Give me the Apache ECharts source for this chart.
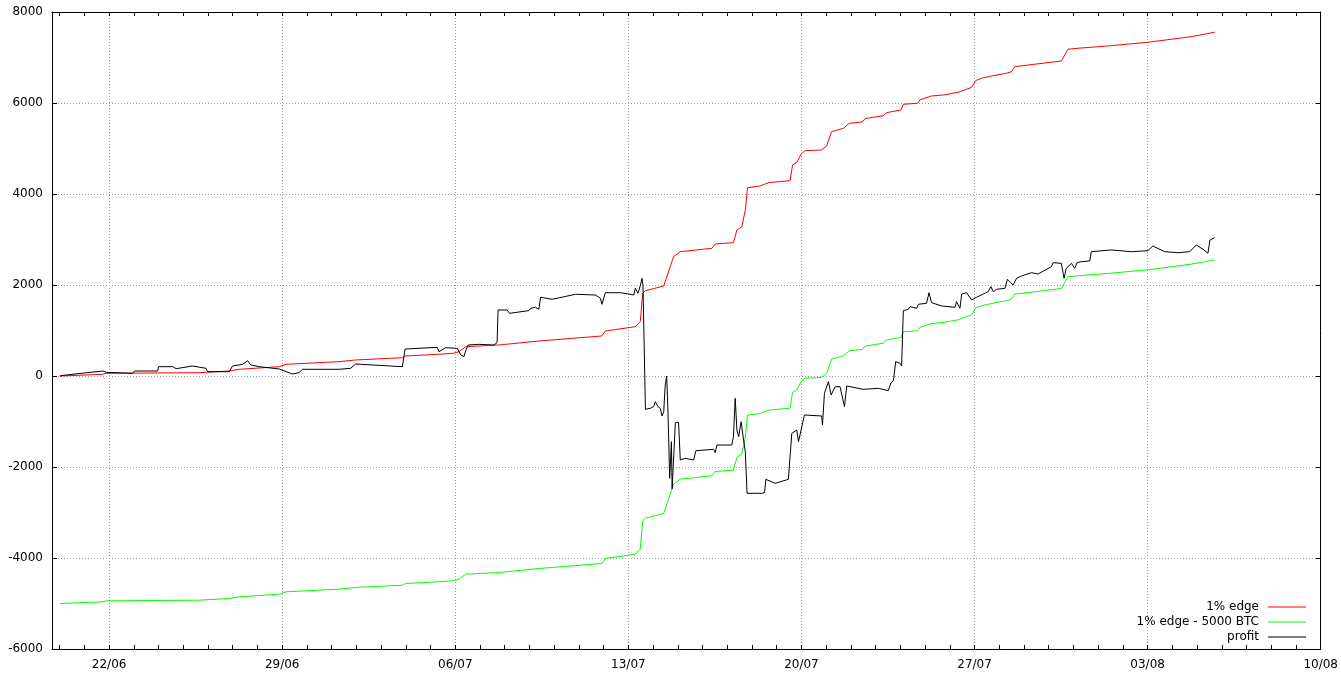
<!DOCTYPE html>
<html><head><meta charset="utf-8">
<script src="https://cdn.jsdelivr.net/npm/echarts@6/dist/echarts.min.js"></script>
<style>html,body{margin:0;padding:0;background:#fff}#c{width:1341px;height:675px}</style>
</head><body><div id="c"></div>
<script>
// x values are days since 20/06/2013 00:00 UTC
const BASE = Date.UTC(2013, 5, 20);
const xMin = -0.31, xMax = 51;
const dayTicks = [0,1,2,3,4,5,6,7,8,9,10,11,12,13,14,15,16,17,18,19,20,21,22,23,24,25,26,27,28,29,30,31,32,33,34,35,36,37,38,39,40,41,42,43,44,45,46,47,48,49,50,51];
const weekTicks = [2,9,16,23,30,37,44,51];
const yMin = -6000, yMax = 8000, yStep = 2000;

const edgeDays = [0.01,1.74,1.88,5.65,6.86,7.26,8.88,9.15,11.30,11.97,13.86,13.99,15.34,15.94,16.15,16.42,17.36,17.76,19.38,21.92,22.07,23.28,23.48,23.58,23.69,24.43,24.83,25.10,26.38,26.51,27.25,27.39,27.59,27.73,27.82,28.33,28.67,29.54,29.64,29.81,29.99,30.15,30.80,31.02,31.22,31.70,31.93,32.46,32.57,33.31,33.44,34.03,34.12,34.70,34.79,35.26,35.74,36.34,36.68,36.88,37.04,37.28,37.69,38.29,38.49,38.63,40.51,40.78,41.19,42.53,44.01,45.76,46.30,46.71];
const edgeVals = [0,37,59,73,110,147,205,257,315,352,402,440,477,501,534,644,670,681,769,879,989,1084,1194,1818,1875,1978,2622,2732,2806,2901,2930,3209,3282,3649,4139,4176,4249,4293,4638,4689,4880,4952,4967,5055,5370,5444,5554,5583,5656,5722,5788,5847,5972,5994,6067,6154,6176,6236,6302,6346,6491,6543,6594,6653,6689,6799,6924,7181,7203,7260,7334,7458,7511,7555];
const edgeMinusVals = [-5000,-4963,-4941,-4927,-4890,-4853,-4795,-4743,-4685,-4648,-4598,-4560,-4523,-4499,-4466,-4356,-4330,-4319,-4231,-4121,-4011,-3916,-3806,-3182,-3125,-3022,-2378,-2268,-2194,-2099,-2070,-1791,-1718,-1351,-861,-824,-751,-707,-362,-311,-120,-48,-33,55,370,444,554,583,656,722,788,847,972,994,1067,1154,1176,1236,1302,1346,1491,1543,1594,1653,1689,1799,1924,2181,2203,2260,2334,2458,2511,2555];

const profitDays = [0.00,0.26,0.33,1.74,1.88,2.95,3.02,3.96,4.00,4.57,4.71,5.38,5.92,5.98,6.86,6.99,7.40,7.60,7.73,8.07,8.88,9.41,9.68,9.82,11.30,11.77,11.97,12.65,13.86,13.97,15.27,15.34,15.61,16.08,16.22,16.35,16.42,16.52,16.95,17.56,17.69,17.73,18.10,18.19,18.97,19.04,19.24,19.38,19.45,19.92,19.99,20.86,21.67,21.87,21.93,22.07,22.68,23.01,23.22,23.28,23.39,23.49,23.55,23.59,23.69,23.89,24.02,24.09,24.20,24.29,24.36,24.43,24.49,24.55,24.60,24.67,24.74,24.77,24.90,25.03,25.10,25.30,25.64,25.73,26.45,26.51,26.58,27.18,27.25,27.32,27.39,27.46,27.56,27.66,27.73,27.80,28.40,28.51,28.56,28.94,29.47,29.54,29.61,29.81,29.88,30.12,30.82,30.85,30.93,31.09,31.20,31.36,31.56,31.74,31.83,32.50,33.11,33.51,33.62,33.72,33.81,33.99,34.05,34.12,34.32,34.39,34.66,34.73,35.06,35.16,35.26,35.67,36.21,36.27,36.41,36.48,36.68,36.88,36.95,37.08,37.55,37.66,37.76,37.89,38.23,38.33,38.56,38.70,38.90,39.30,39.57,40.11,40.18,40.51,40.62,40.71,40.92,41.05,41.15,41.32,41.66,41.72,42.53,43.34,44.01,44.21,44.69,45.23,45.70,45.97,46.24,46.44,46.52,46.71];
const profitVals = [0,22,59,110,81,59,110,110,205,205,161,220,169,95,95,220,257,337,242,205,154,44,73,147,147,169,264,242,205,593,630,534,622,608,462,425,556,681,696,681,733,1451,1451,1378,1436,1488,1510,1466,1730,1686,1721,1796,1780,1708,1576,1831,1831,1802,1780,1927,1818,2000,2147,2000,-732,-710,-674,-564,-674,-710,-879,-785,-200,0,-747,-2249,-1444,-2480,-1026,-1018,-1846,-1809,-1846,-1642,-1611,-1685,-1517,-1517,-1334,-490,-1187,-1334,-1004,-1407,-1664,-2578,-2578,-2564,-2271,-2359,-2271,-2249,-1260,-1187,-1444,-857,-879,-1077,-380,-125,-418,-235,-235,-674,-220,-293,-271,-323,-147,-103,315,279,220,1436,1466,1524,1488,1576,1598,1831,1612,1539,1510,1634,1488,1802,1831,1670,1634,1730,1853,1963,1853,1905,1927,2125,2000,2147,2198,2271,2242,2403,2491,2476,2147,2367,2476,2367,2491,2513,2528,2732,2770,2732,2754,2857,2732,2710,2732,2879,2785,2697,2989,3040];

const seriesNames = ['1% edge', '1% edge - 5000 BTC', 'profit'];
const seriesColors = ['#ff0000', '#00ff00', '#000000'];

const FONT = 'DejaVu Sans';
const gridLine = {show: true, lineStyle: {color: '#a0a0a0', width: 1, type: [1, 2]}};
const fmtDate = v => {
  const d = new Date(BASE + Math.round(v * 86400000));
  const dd = String(d.getUTCDate()).padStart(2, '0');
  const mm = String(d.getUTCMonth() + 1).padStart(2, '0');
  return dd + '/' + mm;
};
const pair = (xs, ys) => xs.map((x, i) => [x, ys[i]]);

const chart = echarts.init(document.getElementById('c'), null, {renderer: 'canvas'});
const legendTops = [601, 616, 631];
chart.setOption({
  animation: false,
  backgroundColor: '#ffffff',
  grid: {left: 52, top: 12, right: 19, bottom: 26, containLabel: false},
  xAxis: [
    {type: 'value', min: xMin, max: xMax, position: 'bottom',
     axisLine: {show: true, onZero: false, lineStyle: {color: '#000', width: 1}},
     axisTick: {show: true, inside: true, length: 4, customValues: dayTicks, lineStyle: {color: '#000'}},
     axisLabel: {show: false}, splitLine: {show: false}},
    {type: 'value', min: xMin, max: xMax, position: 'bottom',
     axisLine: {show: false, onZero: false},
     axisTick: {show: false, customValues: weekTicks},
     axisLabel: {show: true, customValues: weekTicks, formatter: fmtDate, margin: 10,
                 color: '#000', fontFamily: FONT, fontSize: 12},
     splitLine: gridLine},
    {type: 'value', min: xMin, max: xMax, position: 'top',
     axisLine: {show: true, onZero: false, lineStyle: {color: '#000', width: 1}},
     axisTick: {show: true, inside: true, length: 4, customValues: dayTicks, lineStyle: {color: '#000'}},
     axisLabel: {show: false}, splitLine: {show: false}}
  ],
  yAxis: [
    {type: 'value', min: yMin, max: yMax, interval: yStep, position: 'left',
     axisLine: {show: true, onZero: false, lineStyle: {color: '#000', width: 1}},
     axisTick: {show: true, inside: true, length: 5, lineStyle: {color: '#000'}},
     axisLabel: {show: true, margin: 9, formatter: v => String(v), color: '#000', fontFamily: FONT, fontSize: 12},
     splitLine: gridLine},
    {type: 'value', min: yMin, max: yMax, interval: yStep, position: 'right',
     axisLine: {show: true, onZero: false, lineStyle: {color: '#000', width: 1}},
     axisTick: {show: true, inside: true, length: 5, lineStyle: {color: '#000'}},
     axisLabel: {show: false}, splitLine: {show: false}}
  ],
  legend: seriesNames.map((n, i) => ({
    data: [n], orient: 'vertical', align: 'right', right: 35, top: legendTops[i],
    icon: 'rect', itemWidth: 38, itemHeight: 1, selectedMode: false, padding: 0,
    textStyle: {color: '#000', fontFamily: FONT, fontSize: 12, padding: [0, 4, 0, 0]}
  })),
  series: [
    {name: seriesNames[0], type: 'line', xAxisIndex: 0, yAxisIndex: 0, data: pair(edgeDays, edgeVals),
     symbol: 'none', lineStyle: {color: seriesColors[0], width: 1}, itemStyle: {color: seriesColors[0]}},
    {name: seriesNames[1], type: 'line', xAxisIndex: 0, yAxisIndex: 0, data: pair(edgeDays, edgeMinusVals),
     symbol: 'none', lineStyle: {color: seriesColors[1], width: 1}, itemStyle: {color: seriesColors[1]}},
    {name: seriesNames[2], type: 'line', xAxisIndex: 0, yAxisIndex: 0, data: pair(profitDays, profitVals),
     symbol: 'none', lineStyle: {color: seriesColors[2], width: 1}, itemStyle: {color: seriesColors[2]}}
  ]
});
</script></body></html>
